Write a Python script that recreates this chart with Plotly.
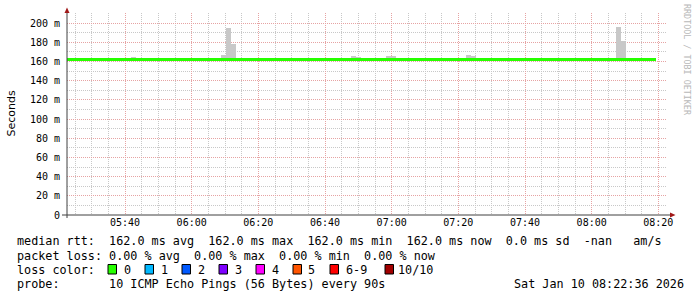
import plotly.graph_objects as go

# ---------------- data ----------------
x_start = "2026-01-10 05:22:36"
x_end = "2026-01-10 08:22:36"

median_times = ["2026-01-10 05:22:36", "2026-01-10 08:19:18"]
median_rtt = [162.0, 162.0]

smoke_times = [
    "2026-01-10 05:42:33",
    "2026-01-10 06:09:33", "2026-01-10 06:11:03", "2026-01-10 06:12:33",
    "2026-01-10 06:48:33", "2026-01-10 06:50:03",
    "2026-01-10 06:59:03", "2026-01-10 07:00:33",
    "2026-01-10 07:23:03", "2026-01-10 07:24:33",
    "2026-01-10 08:08:03", "2026-01-10 08:09:33",
]
smoke_top = [164.6, 166.7, 195.0, 178.0, 165.4, 164.4, 165.4, 165.4, 166.8, 165.6, 196.0, 181.0]
smoke_base = [161.0] * len(smoke_top)

y_tick_vals = [0, 20, 40, 60, 80, 100, 120, 140, 160, 180, 200]
y_tick_text = ["0", "20 m", "40 m", "60 m", "80 m", "100 m", "120 m", "140 m", "160 m", "180 m", "200 m"]

x_tick_vals = ["2026-01-10 05:40", "2026-01-10 06:00", "2026-01-10 06:20", "2026-01-10 06:40",
               "2026-01-10 07:00", "2026-01-10 07:20", "2026-01-10 07:40", "2026-01-10 08:00",
               "2026-01-10 08:20"]
x_tick_text = ["05:40", "06:00", "06:20", "06:40", "07:00", "07:20", "07:40", "08:00", "08:20"]

loss_labels = ["0", "1", "2", "3", "4", "5", "6-9", "10/10"]
loss_colors = ["#26ff00", "#00b8ff", "#0059ff", "#7e00ff", "#ff00ff", "#ff5500", "#ff0000", "#a10000"]

legend_line1 = "median rtt:  162.0 ms avg  162.0 ms max  162.0 ms min  162.0 ms now  0.0 ms sd  -nan   am/s"
legend_line2 = "packet loss: 0.00 % avg  0.00 % max  0.00 % min  0.00 % now"
legend_line3 = "loss color:"
legend_line4 = "probe:       10 ICMP Echo Pings (56 Bytes) every 90s"
stamp = "Sat Jan 10 08:22:36 2026"
watermark = "RRDTOOL / TOBI OETIKER"
y_title = "Seconds"

# ---------------- layout helpers ----------------
W, H = 697, 297
PL, PR, PT, PB = 67, 667, 13, 215
PWID, PHGT = PR - PL, PB - PT


def fx(px):
    return (px - PL) / PWID


def fy(py):
    return (PB - py) / PHGT


MONO = "DejaVu Sans Mono"
NB = "\u00a0"

fig = go.Figure()

fig.add_trace(go.Bar(
    x=smoke_times, y=[t - b for t, b in zip(smoke_top, smoke_base)], base=smoke_base,
    width=90000, marker=dict(color="#c8c8c8", line=dict(width=0)),
    hoverinfo="skip", showlegend=False,
))
fig.add_trace(go.Scatter(
    x=median_times, y=median_rtt, mode="lines", line=dict(color=loss_colors[0], width=3, shape="hv"),
    showlegend=False, hoverinfo="skip",
))

grid_major = "#e6a3a3"
grid_minor = "#c8c8c8"

fig.update_xaxes(
    type="date", range=[x_start, x_end],
    tickmode="array", tickvals=x_tick_vals, ticktext=x_tick_text,
    showgrid=True, gridcolor=grid_major, griddash="1px,1px", gridwidth=1,
    minor=dict(tick0="2026-01-10 05:25", dtick=300000, showgrid=True,
               gridcolor=grid_minor, griddash="1px,1px", gridwidth=1),
    ticks="", showline=False, zeroline=False,
    tickfont=dict(family=MONO, size=10, color="#000000"),
    fixedrange=True,
)
fig.update_yaxes(
    range=[0, PHGT / 0.96],
    tickmode="array", tickvals=y_tick_vals, ticktext=y_tick_text,
    showgrid=True, gridcolor=grid_major, griddash="1px,1px", gridwidth=1,
    minor=dict(dtick=10, showgrid=True, gridcolor=grid_minor, griddash="1px,1px", gridwidth=1),
    ticks="", showline=False, zeroline=False, ticklabelstandoff=6,
    tickfont=dict(family=MONO, size=10, color="#000000"),
    fixedrange=True,
)

shapes = []
axis_col = "#404040"
arrow_col = "#a01818"
# x axis line + arrow
shapes.append(dict(type="line", xref="paper", yref="paper", x0=fx(62), x1=fx(671), y0=0, y1=0,
                   line=dict(color=axis_col, width=1)))
shapes.append(dict(type="path", xref="paper", yref="paper",
                   path=f"M {fx(670)} {fy(212.5)} L {fx(675.5)} {fy(215)} L {fx(670)} {fy(217.5)} Z",
                   fillcolor=arrow_col, line=dict(width=0)))
# y axis line + arrow
shapes.append(dict(type="line", xref="paper", yref="paper", x0=0, x1=0, y0=fy(218), y1=fy(12),
                   line=dict(color=axis_col, width=1)))
shapes.append(dict(type="path", xref="paper", yref="paper",
                   path=f"M {fx(64.5)} {fy(13)} L {fx(67)} {fy(7.5)} L {fx(69.5)} {fy(13)} Z",
                   fillcolor=arrow_col, line=dict(width=0)))

box_x = [108, 145, 182, 219, 256, 293, 330, 385]
lab_x = [122, 159, 196, 233, 270, 306, 344, 396]
for bx, col in zip(box_x, loss_colors):
    shapes.append(dict(type="rect", xref="paper", yref="paper",
                       x0=fx(bx), x1=fx(bx + 8.5), y0=fy(264.5), y1=fy(274),
                       fillcolor=col, line=dict(color="#000000", width=1)))

annotations = []


def add_text(txt, px, py, size=11.78, xanchor="left", color="#000000", family=MONO, angle=0):
    annotations.append(dict(text=txt.replace(" ", NB), xref="paper", yref="paper",
                            x=fx(px), y=fy(py), xanchor=xanchor, yanchor="middle",
                            showarrow=False, textangle=angle,
                            font=dict(family=family, size=size, color=color)))


add_text(legend_line1, 15, 241.5)
add_text(legend_line2, 15, 255.5)
add_text(legend_line3, 15, 269.5)
add_text(legend_line4, 15, 283.5)
add_text(stamp, 512, 283.5)
for lx, lab in zip(lab_x, loss_labels):
    add_text(lab, lx, 269.5)

annotations.append(dict(text=y_title, xref="paper", yref="paper", x=fx(11), y=fy(113.5),
                        xanchor="center", yanchor="middle", showarrow=False, textangle=-90,
                        font=dict(family="DejaVu Sans", size=11, color="#000000")))
annotations.append(dict(text=watermark.replace(" ", NB), xref="paper", yref="paper", x=fx(687), y=fy(60),
                        xanchor="center", yanchor="middle", showarrow=False, textangle=90,
                        font=dict(family=MONO, size=8.4, color="#b8b8b8")))

fig.update_layout(
    width=W, height=H,
    margin=dict(l=PL, r=W - PR, t=PT, b=H - PB),
    paper_bgcolor="#ffffff", plot_bgcolor="#ffffff",
    shapes=shapes, annotations=annotations,
    bargap=0, showlegend=False,
)

fig.write_html("out.html", config={"displayModeBar": False})
